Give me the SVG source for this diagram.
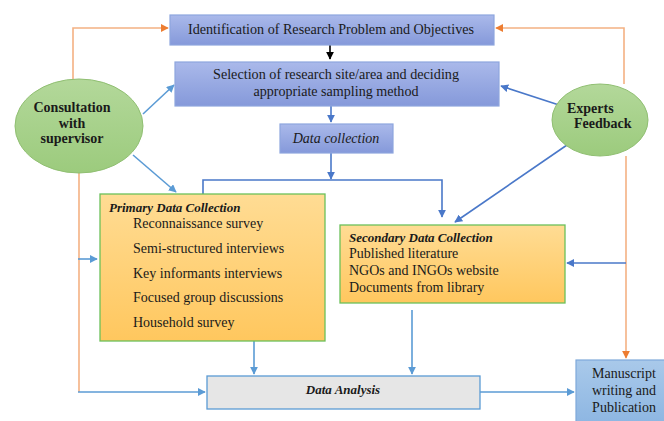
<svg xmlns="http://www.w3.org/2000/svg" width="664" height="421" viewBox="0 0 664 421" font-family="'Liberation Serif', 'DejaVu Serif', serif">
<defs>
<linearGradient id="gBlue" x1="0" y1="0" x2="0" y2="1"><stop offset="0" stop-color="#AAB9EA"/><stop offset="1" stop-color="#8599DA"/></linearGradient>
<linearGradient id="gGreen" x1="0" y1="0" x2="0" y2="1"><stop offset="0" stop-color="#B3D89A"/><stop offset="1" stop-color="#9CCB7D"/></linearGradient>
<linearGradient id="gOrange" x1="0" y1="0" x2="0" y2="1"><stop offset="0" stop-color="#FFDC94"/><stop offset="1" stop-color="#FFC75E"/></linearGradient>
<linearGradient id="gMan" x1="0" y1="0" x2="0" y2="1"><stop offset="0" stop-color="#A9C9EA"/><stop offset="1" stop-color="#8DB6E2"/></linearGradient>
<marker id="aBlue" viewBox="0 0 10 10" refX="9" refY="5" markerWidth="5" markerHeight="5" orient="auto"><path d="M0,0 L10,5 L0,10 z" fill="#4A78C9"/></marker>
<marker id="aLBlue" viewBox="0 0 10 10" refX="9" refY="5" markerWidth="5" markerHeight="5" orient="auto"><path d="M0,0 L10,5 L0,10 z" fill="#5B9BD5"/></marker>
<marker id="aOrange" viewBox="0 0 10 10" refX="9" refY="5" markerWidth="5" markerHeight="5" orient="auto"><path d="M0,0 L10,5 L0,10 z" fill="#ED7D31"/></marker>
<marker id="aBlack" viewBox="0 0 10 10" refX="9" refY="5" markerWidth="5" markerHeight="5" orient="auto"><path d="M0,0 L10,5 L0,10 z" fill="#000"/></marker>
</defs>
<style>
text{font-family:"Liberation Serif","DejaVu Serif",serif;fill:#1a1a1a;}
.t{font-size:14px;}
.bi{font-size:13px;font-weight:bold;font-style:italic;}
.b{font-size:14px;font-weight:bold;}
.blueBox{fill:url(#gBlue);stroke:#8EA6DE;stroke-width:1.2;}
.ell{fill:url(#gGreen);stroke:#90BF72;stroke-width:1;}
.orBox{fill:url(#gOrange);stroke:#6CC05A;stroke-width:1.3;}
.c{fill:none;stroke-width:1.6;}
.db{stroke:#4A78C9;}
.lb{stroke:#5B9BD5;}
.or{stroke:#F4B183;}
</style>

<g id="connectors">
<path class="c" d="M330,45 V59" stroke="#000" stroke-width="1" marker-end="url(#aBlack)"/>
<path class="c db" d="M331,106 V122" marker-end="url(#aBlue)"/>
<path class="c db" d="M331,153 V179" marker-end="url(#aBlue)"/>
<path class="c db" d="M203,194 V180 H442 V217" marker-end="url(#aBlue)"/>
<path class="c or" d="M73,79 V28 H168" marker-end="url(#aOrange)"/>
<path class="c or" d="M624,84 V28 H496" marker-end="url(#aOrange)"/>
<path class="c or" d="M626,156 V358" marker-end="url(#aOrange)"/>
<path class="c or" d="M79,173 V392"/>
<path class="c lb" d="M78,392 H205" marker-end="url(#aLBlue)"/>
<path class="c lb" d="M78,259 H97" marker-end="url(#aLBlue)"/>
<path class="c lb" d="M143,114 L174,85" marker-end="url(#aLBlue)"/>
<path class="c lb" d="M133,155 L176,192" marker-end="url(#aLBlue)"/>
<path class="c db" d="M559,105 L501,86" marker-end="url(#aBlue)"/>
<path class="c db" d="M567,145 L455,222" marker-end="url(#aBlue)"/>
<path class="c db" d="M626,263 H567" marker-end="url(#aBlue)"/>
<path class="c lb" d="M254,341 V374" marker-end="url(#aLBlue)"/>
<path class="c lb" d="M412,310 V374" marker-end="url(#aLBlue)"/>
<path class="c lb" d="M480,392 H574" marker-end="url(#aLBlue)"/>
</g>

<g id="identification">
<rect class="blueBox" x="170" y="15" width="324" height="30"/>
<text class="t" x="331" y="34" text-anchor="middle" textLength="286" lengthAdjust="spacingAndGlyphs">Identification of Research Problem and Objectives</text>
</g>

<g id="selection">
<rect class="blueBox" x="175" y="62" width="324" height="44"/>
<text class="t" x="336" y="79" text-anchor="middle" textLength="246" lengthAdjust="spacingAndGlyphs">Selection of research site/area and deciding</text>
<text class="t" x="336" y="96" text-anchor="middle" textLength="165" lengthAdjust="spacingAndGlyphs">appropriate sampling method</text>
</g>

<g id="data-collection">
<rect class="blueBox" x="280" y="124" width="113" height="29"/>
<text class="t" x="336" y="143" text-anchor="middle" font-style="italic">Data collection</text>
</g>

<g id="consultation">
<ellipse class="ell" cx="79" cy="126" rx="64" ry="47"/>
<text class="b" x="72" y="112" text-anchor="middle">Consultation</text>
<text class="b" x="72" y="128" text-anchor="middle">with</text>
<text class="b" x="72" y="143" text-anchor="middle">supervisor</text>
</g>

<g id="experts">
<ellipse class="ell" cx="600" cy="120" rx="48" ry="36"/>
<text class="b" x="567" y="113">Experts</text>
<text class="b" x="574" y="128">Feedback</text>
</g>

<g id="primary">
<rect class="orBox" x="100" y="194" width="225" height="147"/>
<text class="bi" x="109" y="212">Primary Data Collection</text>
<text class="t" x="133" y="228">Reconnaissance survey</text>
<text class="t" x="133" y="253">Semi-structured interviews</text>
<text class="t" x="133" y="278">Key informants interviews</text>
<text class="t" x="133" y="302">Focused group discussions</text>
<text class="t" x="133" y="327">Household survey</text>
</g>

<g id="secondary">
<rect class="orBox" x="340" y="225" width="225" height="78"/>
<text class="bi" x="349" y="242">Secondary Data Collection</text>
<text class="t" x="349" y="258">Published  literature</text>
<text class="t" x="349" y="275">NGOs and INGOs website</text>
<text class="t" x="349" y="292">Documents  from library</text>
</g>

<g id="data-analysis">
<rect x="207" y="376" width="273" height="33" fill="#E6E6E6" stroke="#5B9BD5" stroke-width="1.3"/>
<text class="bi" x="343" y="394" text-anchor="middle">Data Analysis</text>
</g>

<g id="manuscript">
<rect x="576" y="360" width="92" height="64" fill="url(#gMan)" stroke="#7FA9DA" stroke-width="1.2"/>
<text class="t" x="624" y="378" text-anchor="middle">Manuscript</text>
<text class="t" x="624" y="395" text-anchor="middle">writing and</text>
<text class="t" x="624" y="412" text-anchor="middle">Publication</text>
</g>
</svg>
